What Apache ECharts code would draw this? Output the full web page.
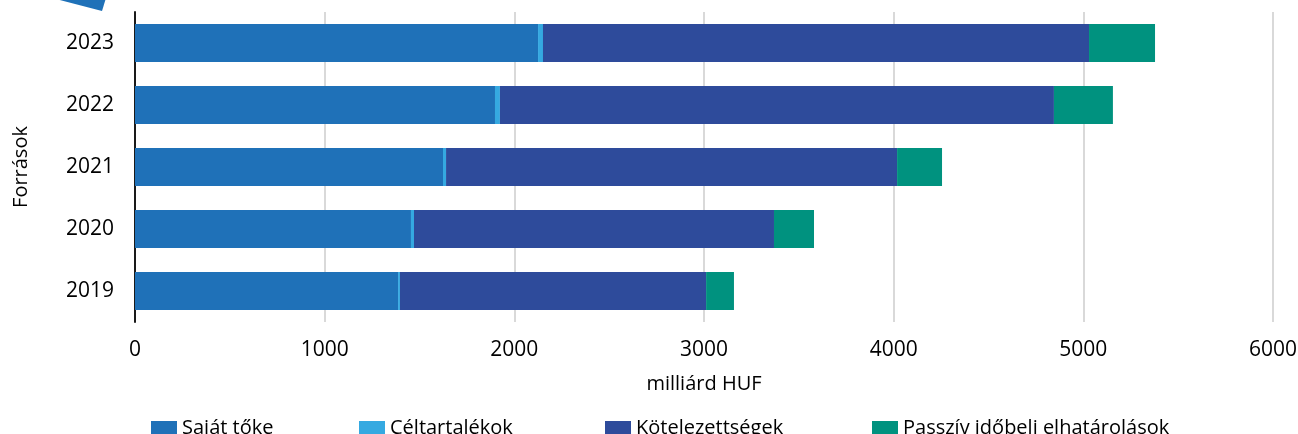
<!DOCTYPE html>
<html>
<head>
<meta charset="utf-8">
<script src="https://cdn.jsdelivr.net/npm/echarts@6/dist/echarts.min.js"></script>
<style>
html,body{margin:0;padding:0;background:#fff;}
#chart{width:1298px;height:434px;}
</style>
</head>
<body>
<div id="chart"></div>
<script>
const categories = ['2019', '2020', '2021', '2022', '2023'];
const sajatToke = [1387, 1455, 1624, 1898, 2125];
const celtartalekok = [10, 16, 16, 26, 26];
const kotelezettsegek = [1614, 1898, 2378, 2921, 2879];
const passziv = [147, 211, 237, 311, 348];
const seriesNames = ['Saját tőke', 'Céltartalékok', 'Kötelezettségek', 'Passzív időbeli elhatárolások'];
const xTicks = [0, 1000, 2000, 3000, 4000, 5000, 6000];

const colors = ['#1f71b8', '#35a9e1', '#2e4b9b', '#00927f'];
const FONT = 'Open Sans';
const chart = echarts.init(document.getElementById('chart'));
const seriesData = [sajatToke, celtartalekok, kotelezettsegek, passziv];
const legendLefts = [151, 359, 605, 872];

const option = {
  animation: false,
  textStyle: { fontFamily: FONT },
  grid: { left: 135, right: 25, top: 12, bottom: 112, containLabel: false, outerBoundsMode: 'none' },
  legend: seriesNames.map((n, i) => ({
    data: [n], left: legendLefts[i], top: 418, padding: 0,
    itemWidth: 26, itemHeight: 14, icon: 'rect', itemGap: 0,
    textStyle: { fontFamily: FONT, fontSize: 20, color: '#000' }
  })),
  xAxis: {
    type: 'value', min: xTicks[0], max: xTicks[xTicks.length - 1], interval: 1000,
    name: 'milliárd HUF', nameLocation: 'middle', nameGap: 52,
    nameTextStyle: { fontFamily: FONT, fontSize: 20, color: '#000' },
    axisLine: { show: false }, axisTick: { show: false },
    axisLabel: { fontFamily: FONT, fontSize: 21, color: '#000', margin: 18, formatter: v => String(v) },
    splitLine: { show: true, lineStyle: { color: '#d9d9d9', width: 2 } }
  },
  yAxis: {
    type: 'category', data: categories,
    name: 'Források', nameLocation: 'middle', nameGap: 104, nameRotate: 90,
    nameTextStyle: { fontFamily: FONT, fontSize: 20, color: '#000' },
    axisLine: { show: true, lineStyle: { color: '#1a1a1a', width: 2 } },
    axisTick: { show: false },
    axisLabel: { fontFamily: FONT, fontSize: 21, color: '#000', margin: 21 },
    splitLine: { show: false }
  },
  series: seriesNames.map((n, i) => ({
    name: n, type: 'bar', stack: 'total', data: seriesData[i],
    barWidth: 38, itemStyle: { color: colors[i] }
  })),
  graphic: [{
    type: 'polygon',
    shape: { points: [[52, -2], [106, -2], [102, 11]] },
    style: { fill: '#1f71b8' }
  }]
};
chart.setOption(option);
</script>
</body>
</html>
